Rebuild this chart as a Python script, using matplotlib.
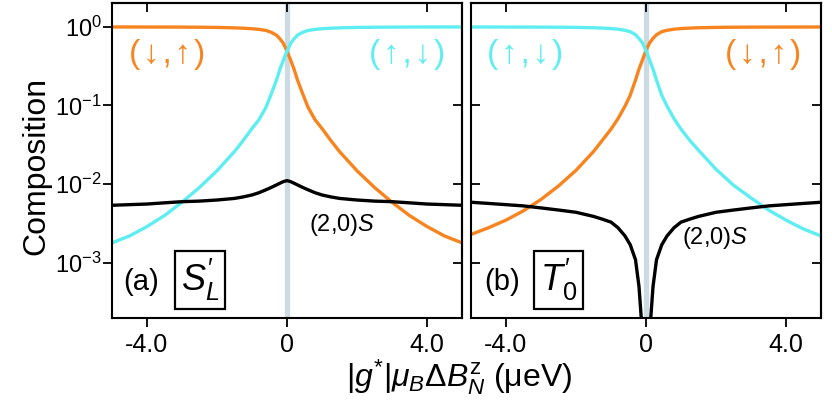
import matplotlib
matplotlib.use('Agg')
import matplotlib.pyplot as plt
from matplotlib.ticker import NullLocator

plt.rcParams['font.family'] = ['Liberation Sans', 'DejaVu Sans']
plt.rcParams['mathtext.fontset'] = 'custom'
plt.rcParams['mathtext.rm'] = 'Liberation Sans'
plt.rcParams['mathtext.it'] = 'Liberation Sans:italic'
plt.rcParams['mathtext.bf'] = 'Liberation Sans:bold'

# detuning grid, |g*| muB dBz (ueV)
x = [-5, -4.5, -4, -3.5, -3, -2.5, -2, -1.5, -1.25, -1, -0.8, -0.6, -0.45, -0.3, -0.2, -0.1,
     0,
     0.1, 0.2, 0.3, 0.45, 0.6, 0.8, 1, 1.25, 1.5, 2, 2.5, 3, 3.5, 4, 4.5, 5]

# (a) S'_L
down_up_a = [0.993, 0.992, 0.991, 0.990, 0.988, 0.985, 0.979, 0.967, 0.957, 0.942, 0.925, 0.896, 0.85, 0.78, 0.70, 0.61,
             0.49,
             0.38, 0.29, 0.21, 0.14, 0.095, 0.066, 0.051, 0.036, 0.026, 0.0148, 0.0091, 0.0059, 0.0040, 0.0029, 0.0022, 0.0018]
up_down_a = [0.0018, 0.0022, 0.0029, 0.0040, 0.0059, 0.0091, 0.0148, 0.026, 0.036, 0.051, 0.066, 0.095, 0.14, 0.21, 0.29, 0.38,
             0.49,
             0.61, 0.70, 0.78, 0.85, 0.896, 0.925, 0.942, 0.957, 0.967, 0.979, 0.985, 0.988, 0.990, 0.991, 0.992, 0.993]
singlet_a = [0.0054, 0.0055, 0.0056, 0.0058, 0.0060, 0.0061, 0.0063, 0.0066, 0.0069, 0.0073, 0.0078, 0.0085, 0.0091, 0.0098, 0.0103, 0.0108,
             0.0111,
             0.0108, 0.0103, 0.0098, 0.0091, 0.0085, 0.0078, 0.0073, 0.0069, 0.0066, 0.0063, 0.0061, 0.0060, 0.0058, 0.0056, 0.0055, 0.0054]

# (b) T'_0
up_down_b = [0.992, 0.991, 0.990, 0.989, 0.988, 0.985, 0.980, 0.970, 0.960, 0.947, 0.93, 0.90, 0.865, 0.79, 0.71, 0.62,
             0.50,
             0.38, 0.29, 0.21, 0.135, 0.098, 0.068, 0.050, 0.036, 0.027, 0.0155, 0.0097, 0.0067, 0.0047, 0.0035, 0.0027, 0.0022]
down_up_b = [0.0023, 0.0028, 0.0035, 0.0046, 0.0064, 0.0095, 0.0150, 0.026, 0.036, 0.050, 0.068, 0.098, 0.135, 0.21, 0.29, 0.38,
             0.50,
             0.62, 0.71, 0.79, 0.865, 0.90, 0.93, 0.947, 0.960, 0.970, 0.980, 0.985, 0.988, 0.989, 0.990, 0.991, 0.992]
singlet_b = [0.0059, 0.0057, 0.0055, 0.0053, 0.0050, 0.0047, 0.0044, 0.0039, 0.0036, 0.0033, 0.0028, 0.0022, 0.0017, 0.0011, 0.0005, 0.00012,
             1e-6,
             0.00012, 0.0005, 0.0011, 0.0017, 0.0022, 0.0028, 0.0033, 0.0036, 0.0039, 0.0044, 0.0047, 0.0050, 0.0053, 0.0055, 0.0057, 0.0059]

y_ticks = [1e-3, 1e-2, 1e-1, 1]
y_tick_labels = [r'$10^{-3}$', r'$10^{-2}$', r'$10^{-1}$', r'$10^{0}$']
x_ticks = [-4, 0, 4]
x_tick_labels = ['-4.0', '0', '4.0']

ORANGE = '#f8841f'
CYAN = '#5eeef2'
BAND = '#cbdae3'


def panel(ax, down_up, up_down, singlet, first):
    ax.axvline(0, color=BAND, lw=3.8, zorder=0)
    ax.plot(x, down_up, color=ORANGE, lw=2.4)
    ax.plot(x, up_down, color=CYAN, lw=2.4)
    ax.plot(x, singlet, color='black', lw=2.4)

    ax.set_yscale('log')
    ax.set_xlim(-5, 5)
    ax.set_ylim(2e-4, 2)
    ax.set_xticks(x_ticks, x_tick_labels)
    ax.set_yticks(y_ticks)
    ax.yaxis.set_minor_locator(NullLocator())
    ax.xaxis.set_minor_locator(NullLocator())
    if first:
        ax.set_yticklabels(y_tick_labels)
        ax.tick_params(axis='y', direction='out', length=6.5, width=1.3, pad=1, labelsize=17)
    else:
        ax.set_yticklabels([])
        ax.tick_params(axis='y', direction='in', length=6.5, width=1.3)
    ax.tick_params(axis='x', direction='out', length=6.5, width=1.3, pad=4, labelsize=18)
    for s in ax.spines.values():
        s.set_linewidth(1.5)

    # inward ticks on the top and right
    top = ax.secondary_xaxis('top')
    top.set_xticks(x_ticks)
    top.set_xticklabels([])
    top.xaxis.set_minor_locator(NullLocator())
    top.tick_params(direction='in', length=6.5, width=1.3)
    top.spines['top'].set_linewidth(1.5)
    right = ax.secondary_yaxis('right')
    right.set_yticks(y_ticks)
    right.set_yticklabels([])
    right.yaxis.set_minor_locator(NullLocator())
    right.tick_params(direction='in', length=6.5, width=1.3)
    right.spines['right'].set_linewidth(1.5)


fig = plt.figure(figsize=(8.32, 4.0), dpi=100)
ax1 = fig.add_axes([0.1346, 0.205, 0.4207, 0.7875])
ax2 = fig.add_axes([0.5661, 0.205, 0.4207, 0.7875])

panel(ax1, down_up_a, up_down_a, singlet_a, True)
panel(ax2, down_up_b, up_down_b, singlet_b, False)

arrows = ['Liberation Sans', 'DejaVu Sans']
lab_dn_up = '(\u200a↓\u200a,\u200a↑\u200a)'
lab_up_dn = '(\u200a↑\u200a,\u200a↓\u200a)'
ax1.text(0.157, 0.835, lab_dn_up, transform=ax1.transAxes, color=ORANGE,
         fontsize=24, ha='center', va='center', family=arrows)
ax1.text(0.843, 0.835, lab_up_dn, transform=ax1.transAxes, color=CYAN,
         fontsize=24, ha='center', va='center', family=arrows)
ax2.text(0.154, 0.835, lab_up_dn, transform=ax2.transAxes, color=CYAN,
         fontsize=24, ha='center', va='center', family=arrows)
ax2.text(0.834, 0.835, lab_dn_up, transform=ax2.transAxes, color=ORANGE,
         fontsize=24, ha='center', va='center', family=arrows)

ax1.text(0.657, 0.295, r'(2,0)$S$', transform=ax1.transAxes, fontsize=17, ha='center', va='center')
ax2.text(0.697, 0.254, r'(2,0)$S$', transform=ax2.transAxes, fontsize=17, ha='center', va='center')

box = dict(boxstyle='square,pad=0.16', fc='white', ec='black', lw=1.6)
ax1.text(0.033, 0.115, '(a)', transform=ax1.transAxes, fontsize=21, ha='left', va='center')
ax1.text(0.251, 0.12, r"$S_L'$", transform=ax1.transAxes, fontsize=26, ha='center', va='center', bbox=box)
ax2.text(0.038, 0.115, '(b)', transform=ax2.transAxes, fontsize=21, ha='left', va='center')
ax2.text(0.251, 0.12, r"$T_0'$", transform=ax2.transAxes, fontsize=26, ha='center', va='center', bbox=box)

fig.text(0.044, 0.585, 'Composition', rotation=90, fontsize=23, ha='center', va='center')
fig.text(0.552, 0.058, r'$|g^{*}|\mu_{B}\Delta B_{N}^{\mathrm{z}}$ (μeV)', fontsize=23, ha='center', va='center')

fig.savefig('out.png', dpi=100)
